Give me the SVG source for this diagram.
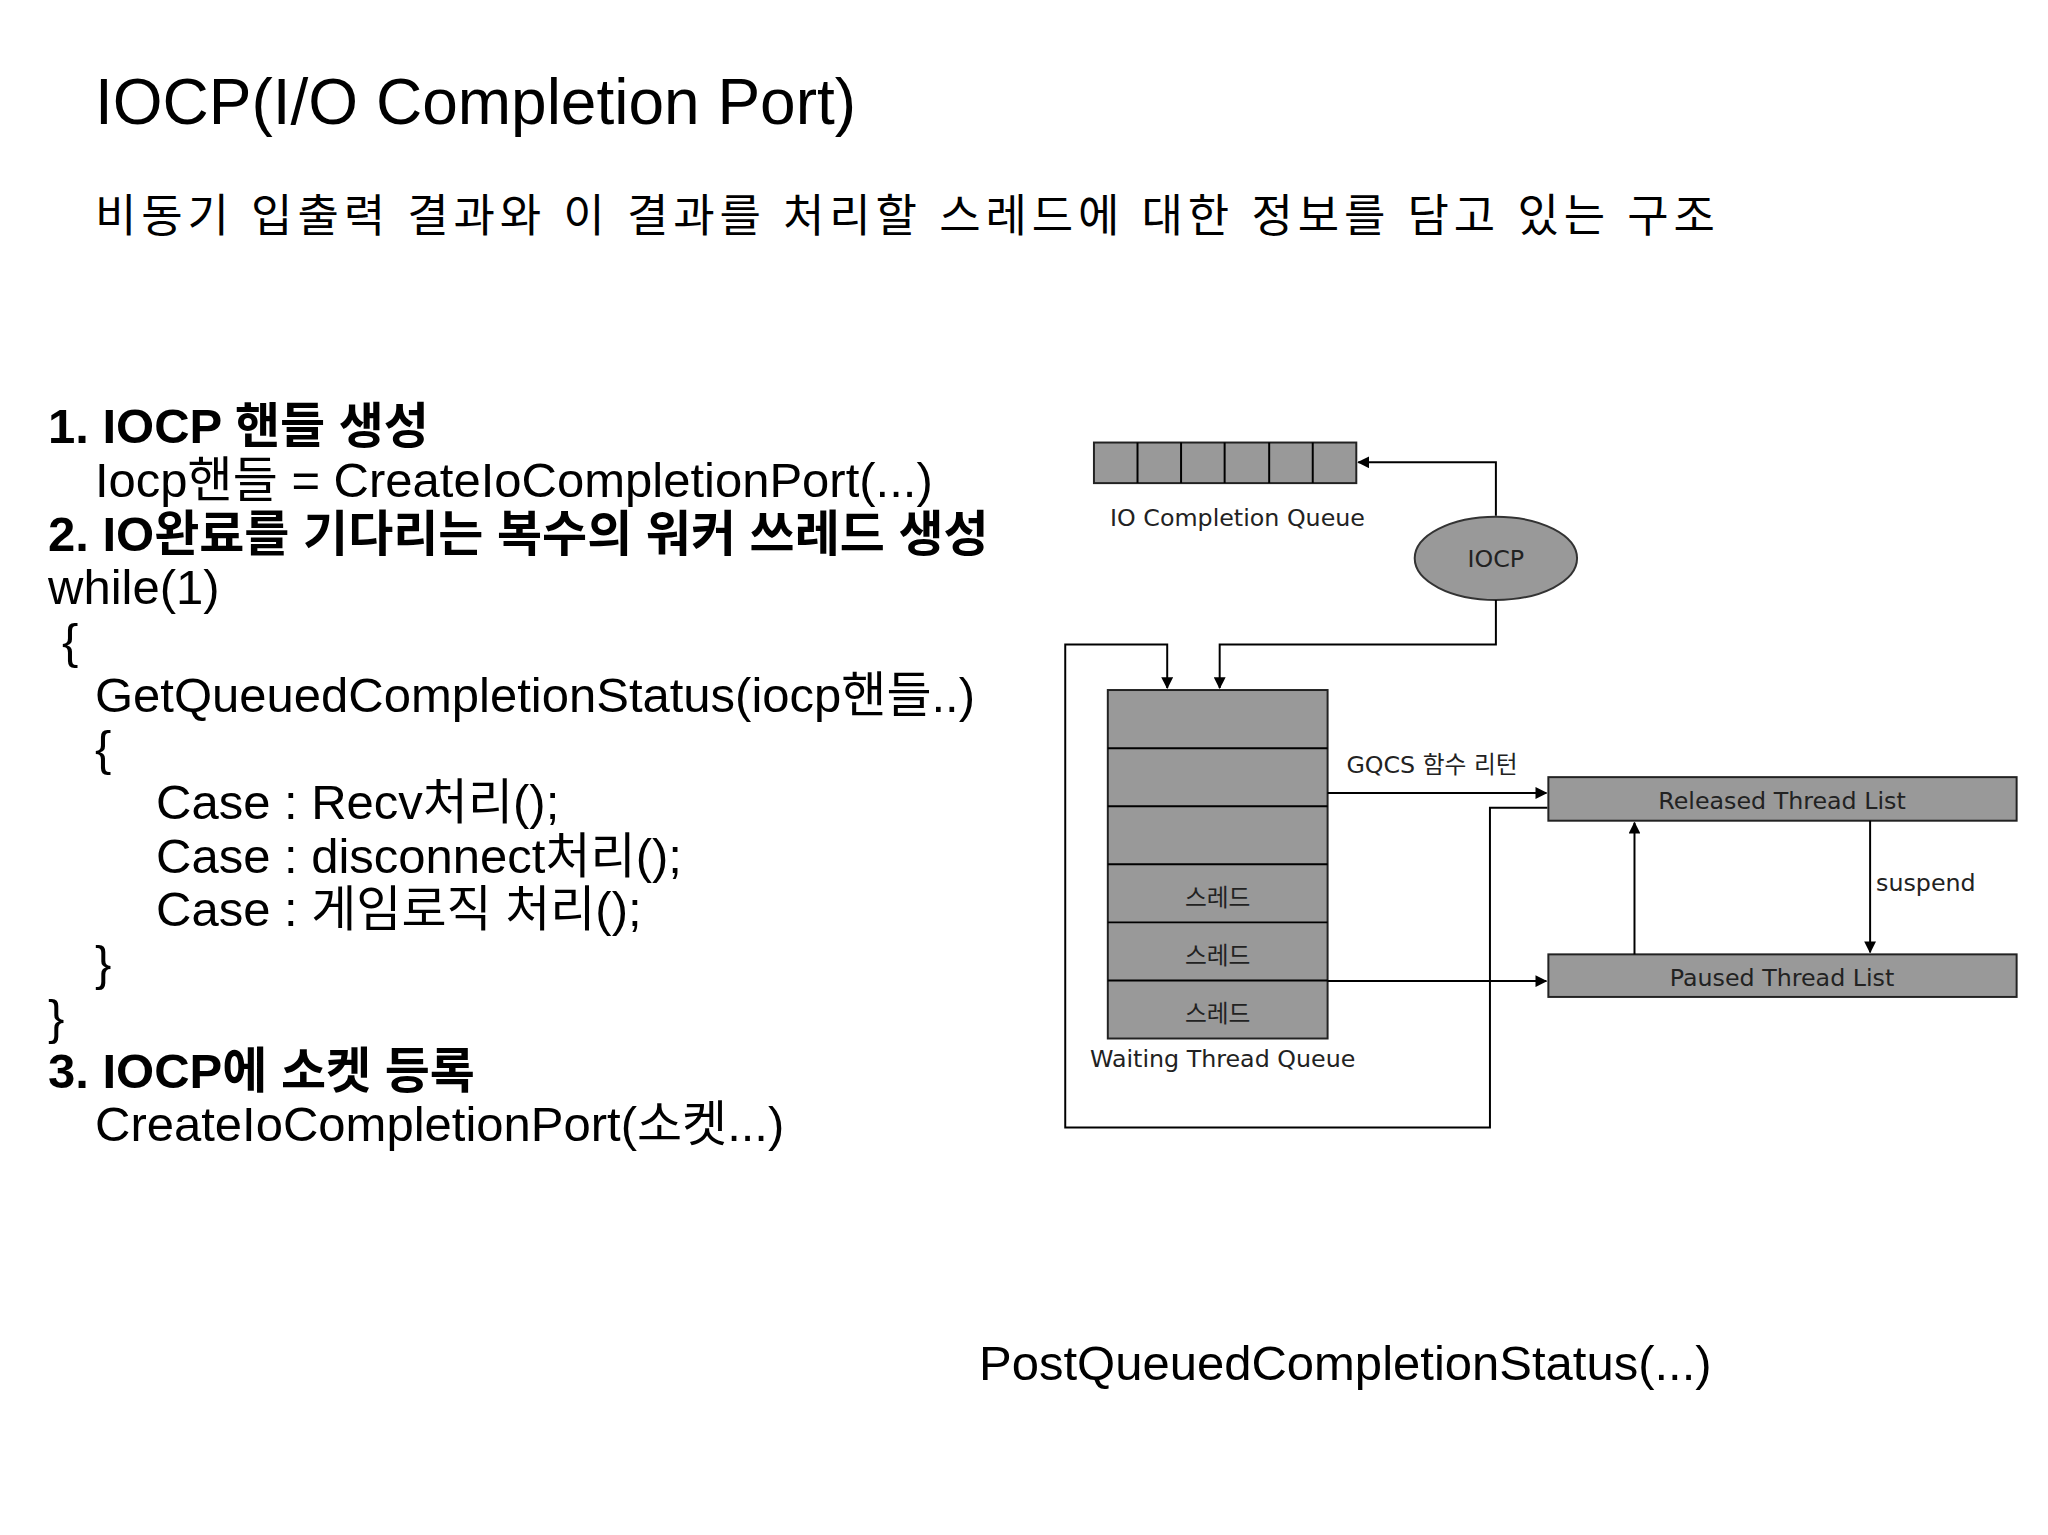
<svg xmlns="http://www.w3.org/2000/svg" width="2048" height="1535" viewBox="0 0 2048 1535">
<style>
.t{font-family:"Liberation Sans","Noto Sans CJK KR",sans-serif;fill:#000}
.b{font-weight:bold}
.m{font-size:49px}
.d{font-family:"DejaVu Sans","Noto Sans CJK KR",sans-serif;font-size:24px;fill:#222}
.box{fill:#999;stroke:#222;stroke-width:2}
.ln{fill:none;stroke:#000;stroke-width:2}
</style>
<defs><marker id="a" markerWidth="12" markerHeight="12" refX="11" refY="6" orient="auto" markerUnits="userSpaceOnUse"><path d="M0,0 L12,6 L0,12 z" fill="#000"/></marker></defs>
<rect width="2048" height="1535" fill="#fff"/>
<text class="t" x="95" y="124" font-size="64">IOCP(I/O Completion Port)</text>
<text class="t" x="95" y="232" font-size="45" textLength="1620">비동기 입출력 결과와 이 결과를 처리할 스레드에 대한 정보를 담고 있는 구조</text>
<g class="t m">
<text class="b" x="48" y="443">1. IOCP 핸들 생성</text>
<text x="95" y="497">Iocp핸들 = CreateIoCompletionPort(...)</text>
<text class="b" x="48" y="551">2. IO완료를 기다리는 복수의 워커 쓰레드 생성</text>
<text x="48" y="604">while(1)</text>
<text x="62" y="658">{</text>
<text x="95" y="712">GetQueuedCompletionStatus(iocp핸들..)</text>
<text x="95" y="765">{</text>
<text x="156" y="819">Case : Recv처리();</text>
<text x="156" y="873">Case : disconnect처리();</text>
<text x="156" y="926">Case : 게임로직 처리();</text>
<text x="95" y="980">}</text>
<text x="48" y="1034">}</text>
<text class="b" x="48" y="1088">3. IOCP에 소켓 등록</text>
<text x="95" y="1141">CreateIoCompletionPort(소켓...)</text>
<text x="979" y="1380">PostQueuedCompletionStatus(...)</text>
</g>
<g transform="scale(0.99)">
<g id="ioq">
<rect class="box" x="1105" y="447" width="265" height="41"/>
<path class="ln" d="M1149,447V488M1193,447V488M1237,447V488M1282,447V488M1326,447V488" stroke="#222"/>
<text class="d" x="1250" y="531" text-anchor="middle">IO Completion Queue</text>
</g>
<g id="iocp">
<ellipse cx="1511" cy="564" rx="82" ry="42" fill="#999" stroke="#333" stroke-width="2"/>
<text class="d" x="1511" y="573" text-anchor="middle">IOCP</text>
</g>
<g id="wtq">
<rect class="box" x="1119" y="697" width="222" height="352"/>
<path class="ln" d="M1119,755.7H1341M1119,814.3H1341M1119,873H1341M1119,931.7H1341M1119,990.3H1341"/>
<text class="d" x="1230" y="915" text-anchor="middle">스레드</text>
<text class="d" x="1230" y="974" text-anchor="middle">스레드</text>
<text class="d" x="1230" y="1032" text-anchor="middle">스레드</text>
<text class="d" x="1235" y="1078" text-anchor="middle">Waiting Thread Queue</text>
</g>
<g id="rtl">
<rect class="box" x="1564" y="785" width="473" height="44"/>
<text class="d" x="1800" y="817" text-anchor="middle">Released Thread List</text>
</g>
<g id="ptl">
<rect class="box" x="1564" y="964" width="473" height="43"/>
<text class="d" x="1800" y="996" text-anchor="middle">Paused Thread List</text>
</g>
<g id="connectors">
<path class="ln" d="M1511,521V467H1372" marker-end="url(#a)"/>
<path class="ln" d="M1511,606V651H1232V695" marker-end="url(#a)"/>
<path class="ln" d="M1563,816H1505V1139H1076V651H1179V695" marker-end="url(#a)"/>
<path class="ln" d="M1341,801H1562" marker-end="url(#a)"/>
<path class="ln" d="M1341,991H1562" marker-end="url(#a)"/>
<path class="ln" d="M1651,964V831" marker-end="url(#a)"/>
<path class="ln" d="M1889,829V962" marker-end="url(#a)"/>
<text class="d" x="1360" y="781">GQCS 함수 리턴</text>
<text class="d" x="1895" y="900">suspend</text>
</g>
</g>
</svg>
